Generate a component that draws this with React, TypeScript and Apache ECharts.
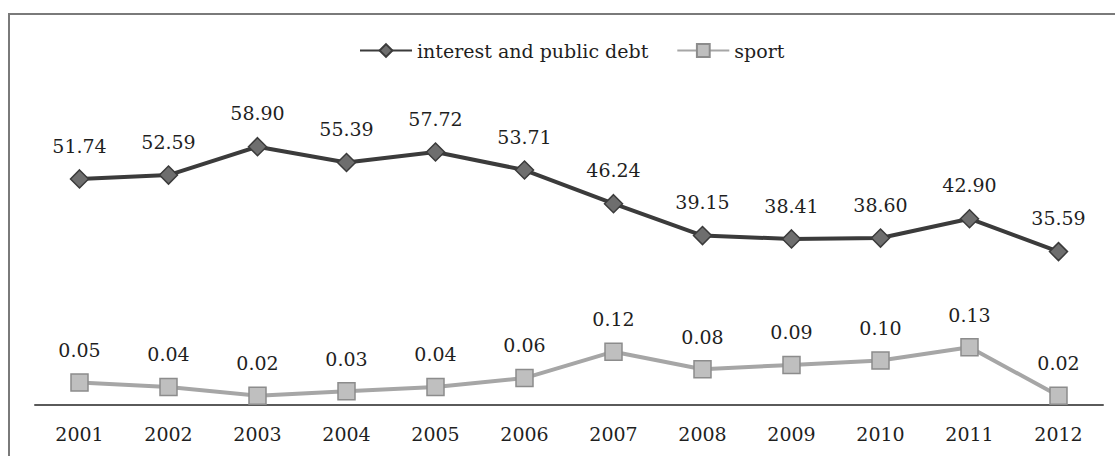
import React, { useEffect, useRef } from "react";
import * as echarts from "echarts";

const years = ["2001", "2002", "2003", "2004", "2005", "2006", "2007", "2008", "2009", "2010", "2011", "2012"];
const debtValues = [51.74, 52.59, 58.9, 55.39, 57.72, 53.71, 46.24, 39.15, 38.41, 38.6, 42.9, 35.59];
const sportValues = [0.05, 0.04, 0.02, 0.03, 0.04, 0.06, 0.12, 0.08, 0.09, 0.1, 0.13, 0.02];
const seriesNames = ["interest and public debt", "sport"];

const FONT = "DejaVu Serif";

export default function App() {
  const ref = useRef<HTMLDivElement>(null);
  useEffect(() => {
    if (!ref.current) return;
    const chart = echarts.init(ref.current, null, { renderer: "svg" });
    const labelCommon = {
      show: true,
      position: "top" as const,
      distance: 14,
      fontFamily: FONT,
      fontSize: 19,
      color: "#1f1f1f",
      formatter: (p: any) => Number(p.value).toFixed(2),
    };
    chart.setOption({
      animation: false,
      backgroundColor: "#ffffff",
      graphic: [
        {
          type: "rect",
          shape: { x: 9, y: 14, width: 1200, height: 600 },
          style: { fill: "none", stroke: "#7a7a7a", lineWidth: 2 },
          silent: true,
        },
      ],
      legend: {
        top: 36,
        left: 354,
        itemWidth: 52,
        itemHeight: 16,
        itemGap: 28,
        textStyle: { fontFamily: FONT, fontSize: 19, color: "#1f1f1f" },
        data: seriesNames,
      },
      grid: { left: 35, right: 12, top: 94, bottom: 50, containLabel: false },
      xAxis: {
        type: "category",
        data: years,
        boundaryGap: true,
        axisLine: { show: true, lineStyle: { color: "#5a5a5a", width: 2 } },
        axisTick: { show: false },
        axisLabel: { fontFamily: FONT, fontSize: 19, color: "#1f1f1f", margin: 18 },
      },
      yAxis: [
        { type: "value", min: 1.3, max: 70.6, show: false, splitLine: { show: false } },
        { type: "value", min: -0.0034, max: 0.7057, show: false, splitLine: { show: false } },
      ],
      series: [
        {
          name: seriesNames[0],
          type: "line",
          yAxisIndex: 0,
          data: debtValues,
          symbol: "diamond",
          symbolSize: 18,
          lineStyle: { color: "#3b3b3b", width: 4 },
          itemStyle: { color: "#6e6e6e", borderColor: "#3b3b3b", borderWidth: 1.5 },
          label: labelCommon,
          z: 3,
        },
        {
          name: seriesNames[1],
          type: "line",
          yAxisIndex: 1,
          data: sportValues,
          symbol: "rect",
          symbolSize: 17,
          lineStyle: { color: "#a6a6a6", width: 4 },
          itemStyle: { color: "#bfbfbf", borderColor: "#8c8c8c", borderWidth: 1.5 },
          label: labelCommon,
          z: 2,
        },
      ],
    });
    return () => chart.dispose();
  }, []);
  return (
    <div
      ref={ref}
      style={{ position: "absolute", left: 0, top: 0, width: 1115, height: 456, background: "#fff" }}
    />
  );
}
